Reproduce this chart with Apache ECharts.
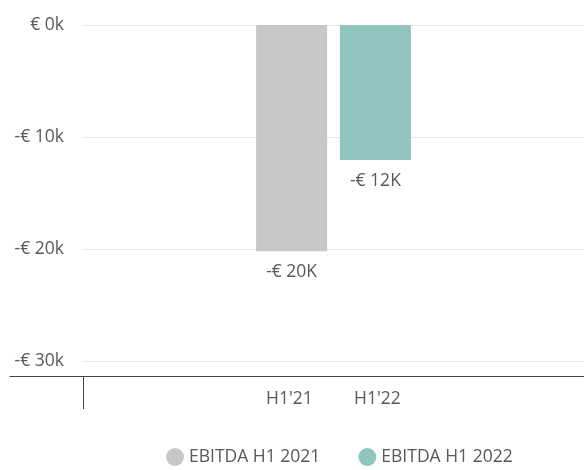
<!DOCTYPE html>
<html>
<head>
<meta charset="utf-8">
<script src="https://cdn.jsdelivr.net/npm/echarts@6/dist/echarts.min.js"></script>
<style>
  html, body { margin: 0; padding: 0; background: #fff; }
  #chartWrapper { width: 584px; height: 470px; }
</style>
</head>
<body>
<div id="chartWrapper"></div>
<script>
const periods = ["H1'21", "H1'22"] // 柱下方標籤
const seriesNames = ["EBITDA H1 2021", "EBITDA H1 2022"]
const ebitda2021 = [-20200]
const ebitda2022 = [-12050]
const yTicks = [0, -10000, -20000, -30000]
const colors = ["#c8c7c6", "#90c4bf"]
const textColor = "#595959"
const fontFamily = "'Open Sans', sans-serif"
const fontSize = 17.5

const myChart = echarts.init(document.getElementById("chartWrapper"))

function axisMoney(v) {
  if (v === 0) return "€ 0k"
  return (v < 0 ? "-€ " : "€ ") + Math.abs(v) / 1000 + "k"
}
function barMoney(p) {
  return (p.value < 0 ? "-€ " : "€ ") + Math.round(Math.abs(p.value) / 1000) + "K"
}

let option = {
  animation: false,
  textStyle: { fontFamily: fontFamily },
  grid: [
    { left: 83, right: 0, top: 25, bottom: 109 },
    { left: 10, right: 0, top: 25, bottom: 109 } // 只畫延伸的X軸線
  ],
  legend: {
    left: 161,
    top: 443,
    icon: "circle",
    itemWidth: 18,
    itemHeight: 18,
    itemGap: 38,
    textStyle: { color: textColor, fontSize: fontSize, fontFamily: fontFamily },
    data: seriesNames
  },
  xAxis: [
    {
      type: "category",
      gridIndex: 0,
      position: "bottom",
      data: ["H1"],
      offset: 15,
      boundaryGap: true,
      axisLine: { show: true, onZero: false, lineStyle: { color: "#444", width: 1 } },
      axisTick: { show: true, length: 33, lineStyle: { color: "#444" } },
      axisLabel: {
        margin: 14,
        formatter: () => `{a|${periods[0]}}{b|${periods[1]}}`,
        rich: {
          a: { width: 88, align: "center", fontSize: fontSize, color: textColor, fontFamily: fontFamily },
          b: { width: 88, align: "center", fontSize: fontSize, color: textColor, fontFamily: fontFamily }
        }
      }
    },
    {
      type: "value",
      gridIndex: 1,
      position: "bottom",
      offset: 15,
      axisLine: { show: true, onZero: false, lineStyle: { color: "#444", width: 1 } },
      axisTick: { show: false },
      axisLabel: { show: false },
      splitLine: { show: false }
    }
  ],
  yAxis: [
    {
      type: "value",
      gridIndex: 0,
      min: yTicks[yTicks.length - 1],
      max: yTicks[0],
      interval: 10000,
      axisLine: { show: false },
      axisTick: { show: false },
      axisLabel: { margin: 19, fontSize: fontSize, color: textColor, formatter: axisMoney },
      splitLine: { lineStyle: { color: "#e6e6e6", width: 1 } }
    },
    { type: "value", gridIndex: 1, show: false }
  ],
  series: [
    {
      name: seriesNames[0],
      type: "bar",
      barWidth: 71,
      barGap: "18%",
      itemStyle: { color: colors[0] },
      label: { show: true, position: "bottom", distance: 12, fontSize: fontSize, color: textColor, formatter: barMoney },
      data: ebitda2021
    },
    {
      name: seriesNames[1],
      type: "bar",
      barWidth: 71,
      barGap: "18%",
      itemStyle: { color: colors[1] },
      label: { show: true, position: "bottom", distance: 12, fontSize: fontSize, color: textColor, formatter: barMoney },
      data: ebitda2022
    }
  ]
}

myChart.setOption(option)
</script>
</body>
</html>
